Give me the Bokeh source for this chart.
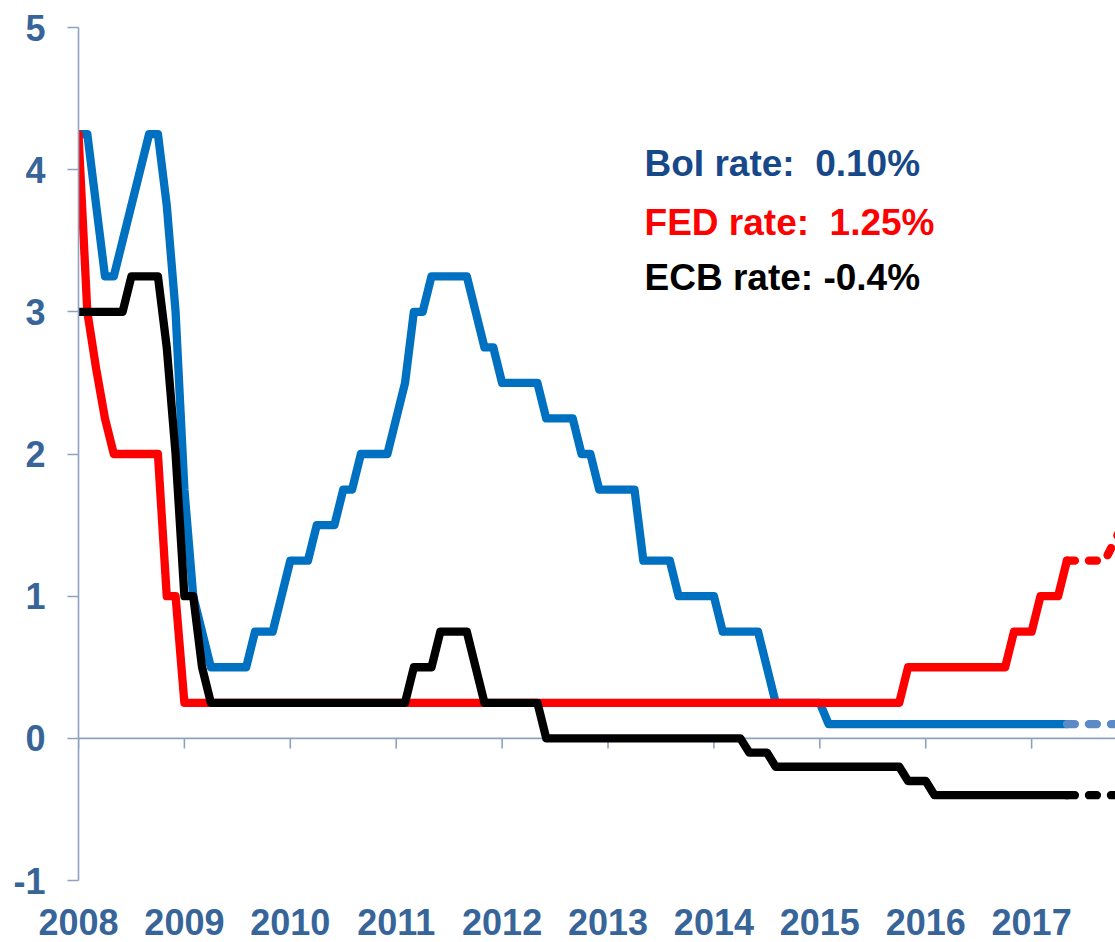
from bokeh.plotting import figure
from bokeh.models import Range1d, FixedTicker, Span, Label, ColumnDataSource
from bokeh.embed import file_html
from bokeh.resources import INLINE

# ---------------- data (monthly, Jan 2008 = month 0) ----------------
start_year = 2008
boi_rate = [
    4.25, 4.25, 3.75, 3.25, 3.25, 3.5, 3.75, 4.0, 4.25, 4.25, 3.75, 3.0,      # 2008
    1.75, 1.0, 0.75, 0.5, 0.5, 0.5, 0.5, 0.5, 0.75, 0.75, 0.75, 1.0,          # 2009
    1.25, 1.25, 1.25, 1.5, 1.5, 1.5, 1.75, 1.75, 2.0, 2.0, 2.0, 2.0,          # 2010
    2.25, 2.5, 3.0, 3.0, 3.25, 3.25, 3.25, 3.25, 3.25, 3.0, 2.75, 2.75,       # 2011
    2.5, 2.5, 2.5, 2.5, 2.5, 2.25, 2.25, 2.25, 2.25, 2.0, 2.0, 1.75,          # 2012
    1.75, 1.75, 1.75, 1.75, 1.25, 1.25, 1.25, 1.25, 1.0, 1.0, 1.0, 1.0,       # 2013
    1.0, 0.75, 0.75, 0.75, 0.75, 0.75, 0.5, 0.25, 0.25, 0.25, 0.25, 0.25,     # 2014
    0.25, 0.1, 0.1, 0.1, 0.1, 0.1, 0.1, 0.1, 0.1, 0.1, 0.1, 0.1,              # 2015
    0.1, 0.1, 0.1, 0.1, 0.1, 0.1, 0.1, 0.1, 0.1, 0.1, 0.1, 0.1,               # 2016
    0.1, 0.1, 0.1, 0.1, 0.1,                                                  # 2017
]
fed_rate = [
    4.25, 3.0, 2.6, 2.25, 2.0, 2.0, 2.0, 2.0, 2.0, 2.0, 1.0, 1.0,             # 2008
    0.25, 0.25, 0.25, 0.25, 0.25, 0.25, 0.25, 0.25, 0.25, 0.25, 0.25, 0.25,   # 2009
    0.25, 0.25, 0.25, 0.25, 0.25, 0.25, 0.25, 0.25, 0.25, 0.25, 0.25, 0.25,   # 2010
    0.25, 0.25, 0.25, 0.25, 0.25, 0.25, 0.25, 0.25, 0.25, 0.25, 0.25, 0.25,   # 2011
    0.25, 0.25, 0.25, 0.25, 0.25, 0.25, 0.25, 0.25, 0.25, 0.25, 0.25, 0.25,   # 2012
    0.25, 0.25, 0.25, 0.25, 0.25, 0.25, 0.25, 0.25, 0.25, 0.25, 0.25, 0.25,   # 2013
    0.25, 0.25, 0.25, 0.25, 0.25, 0.25, 0.25, 0.25, 0.25, 0.25, 0.25, 0.25,   # 2014
    0.25, 0.25, 0.25, 0.25, 0.25, 0.25, 0.25, 0.25, 0.25, 0.25, 0.5, 0.5,     # 2015
    0.5, 0.5, 0.5, 0.5, 0.5, 0.5, 0.5, 0.5, 0.5, 0.5, 0.75, 0.75,             # 2016
    0.75, 1.0, 1.0, 1.0, 1.25,                                                # 2017
]
ecb_rate = [
    3.0, 3.0, 3.0, 3.0, 3.0, 3.0, 3.25, 3.25, 3.25, 3.25, 2.75, 2.0,          # 2008
    1.0, 1.0, 0.5, 0.25, 0.25, 0.25, 0.25, 0.25, 0.25, 0.25, 0.25, 0.25,      # 2009
    0.25, 0.25, 0.25, 0.25, 0.25, 0.25, 0.25, 0.25, 0.25, 0.25, 0.25, 0.25,   # 2010
    0.25, 0.25, 0.5, 0.5, 0.5, 0.75, 0.75, 0.75, 0.75, 0.5, 0.25, 0.25,       # 2011
    0.25, 0.25, 0.25, 0.25, 0.25, 0.0, 0.0, 0.0, 0.0, 0.0, 0.0, 0.0,          # 2012
    0.0, 0.0, 0.0, 0.0, 0.0, 0.0, 0.0, 0.0, 0.0, 0.0, 0.0, 0.0,               # 2013
    0.0, 0.0, 0.0, 0.0, -0.1, -0.1, -0.1, -0.2, -0.2, -0.2, -0.2, -0.2,       # 2014
    -0.2, -0.2, -0.2, -0.2, -0.2, -0.2, -0.2, -0.2, -0.2, -0.2, -0.3, -0.3,   # 2015
    -0.3, -0.4, -0.4, -0.4, -0.4, -0.4, -0.4, -0.4, -0.4, -0.4, -0.4, -0.4,   # 2016
    -0.4, -0.4, -0.4, -0.4, -0.4,                                             # 2017
]
# projections (dashed), month indices from Jan 2008
boi_proj_months = [112, 120]
boi_proj = [0.1, 0.1]
fed_proj_months = [112, 116.3, 118.3, 120]
fed_proj = [1.25, 1.25, 1.5, 1.5]
ecb_proj_months = [112, 120]
ecb_proj = [-0.4, -0.4]

years = [2008, 2009, 2010, 2011, 2012, 2013, 2014, 2015, 2016, 2017]
y_ticks = [-1, 0, 1, 2, 3, 4, 5]
labels = ["BoI rate:\u00a0 0.10%", "FED rate:\u00a0 1.25%", "ECB rate: -0.4%"]

# ---------------- styling ----------------
BLUE = "#0070C0"
BLUE_PROJ = "#5B8BC7"
RED = "#FF0000"
BLACK = "#000000"
AXIS = "#8DA2C0"
TICK_TXT = "#376599"
FONT = "Liberation Sans"

def to_x(months):
    return [start_year + m / 12.0 for m in months]

months = list(range(len(boi_rate)))
xs = to_x(months)

p = figure(width=1115, height=942, output_backend="svg", toolbar_location=None,
           x_range=Range1d(2008, 2017.792), y_range=Range1d(-1, 5),
           min_border_left=78, min_border_right=0, min_border_top=27, min_border_bottom=62)
p.outline_line_color = None
p.grid.visible = False
p.background_fill_color = "white"
p.border_fill_color = "white"

# zero line (horizontal axis) under the data
zero_line = Span(location=0, dimension="width", line_color=AXIS, line_width=1.6, level="underlay")
p.add_layout(zero_line)

# year tick marks hanging down from the zero line
tick_src = ColumnDataSource(dict(x=years, y0=[0] * len(years), y1=[-0.072] * len(years)))
p.segment(x0="x", y0="y0", x1="x", y1="y1", source=tick_src, line_color=AXIS, line_width=1.6, level="underlay")

# y axis
ya = p.yaxis[0]
ya.ticker = FixedTicker(ticks=y_ticks)
ya.major_label_overrides = {-1: "-1"}
ya.axis_line_color = AXIS
ya.axis_line_width = 1.6
ya.major_tick_line_color = AXIS
ya.major_tick_line_width = 1.6
ya.major_tick_out = 11
ya.major_tick_in = 0
ya.minor_tick_line_color = None
ya.major_label_standoff = 22
ya.major_label_text_font = FONT
ya.major_label_text_font_style = "bold"
ya.major_label_text_font_size = "36px"
ya.major_label_text_color = TICK_TXT

# x axis (labels only, at the bottom)
xa = p.xaxis[0]
xa.ticker = FixedTicker(ticks=years)
xa.axis_line_color = None
xa.major_tick_line_color = None
xa.minor_tick_line_color = None
xa.major_tick_out = 0
xa.major_tick_in = 0
xa.major_label_standoff = 28
xa.major_label_text_font = FONT
xa.major_label_text_font_style = "bold"
xa.major_label_text_font_size = "36px"
xa.major_label_text_color = TICK_TXT

LW = 8.3
p.line(xs, boi_rate, line_color=BLUE, line_width=LW, line_join="round", line_cap="round")
p.line(xs, fed_rate, line_color=RED, line_width=LW, line_join="round", line_cap="round")
p.line(xs, ecb_rate, line_color=BLACK, line_width=LW, line_join="round", line_cap="round")

p.line(to_x(boi_proj_months), boi_proj, line_color=BLUE_PROJ, line_width=LW, line_dash="8 14", line_cap="round")
p.line(to_x(fed_proj_months), fed_proj, line_color=RED, line_width=LW, line_dash="8 14", line_cap="round")
p.line(to_x(ecb_proj_months), ecb_proj, line_color=BLACK, line_width=LW, line_dash="8 14", line_cap="round")

label_colors = ["#17498A", "#FF0000", "#000000"]
label_y = [4.040, 3.625, 3.240]
for txt, col, yy in zip(labels, label_colors, label_y):
    p.add_layout(Label(x=2013.345, y=yy, text=txt, text_color=col, text_font=FONT,
                       text_font_style="bold", text_font_size="37px", text_baseline="middle"))

open("out.html", "w").write(file_html(p, INLINE))
